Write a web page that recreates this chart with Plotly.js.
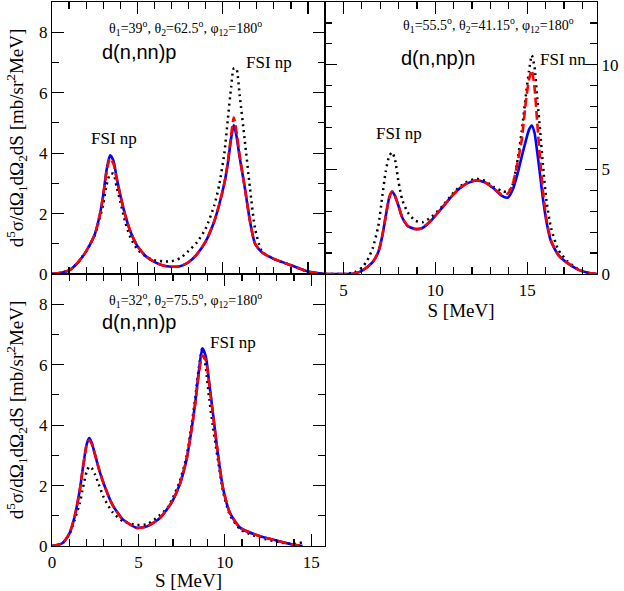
<!DOCTYPE html>
<html>
<head>
<meta charset="utf-8">
<script src="https://cdn.plot.ly/plotly-3.0.1.min.js"></script>
<style>
  html, body { margin: 0; padding: 0; background: white; }
  #chart { width: 624px; height: 591px; }
</style>
</head>
<body>
<div id="chart"></div>
<script>
// panel A: d(n,nn)p, theta1=39, theta2=62.5
const sA = [0, 0.5, 1, 1.5, 2, 2.5, 2.8, 3.0, 3.2, 3.4, 3.6, 3.8, 4.0, 4.3, 4.6, 5.0, 5.5, 6, 6.5, 7,
            7.5, 8, 8.5, 9, 9.5, 9.8, 10.1, 10.3, 10.5, 10.65, 10.8, 11.0, 11.3, 11.6, 11.9, 12.3, 13, 14, 15, 16];
const blueA = [0, 0.04, 0.12, 0.37, 0.75, 1.3, 1.95, 2.6, 3.45, 3.93, 3.75, 3.15, 2.62, 1.93, 1.4, 0.93, 0.59, 0.4, 0.28, 0.24,
               0.26, 0.39, 0.66, 1.07, 1.73, 2.3, 3.0, 3.65, 4.5, 4.93, 4.6, 3.85, 2.85, 1.75, 1.0, 0.72, 0.5, 0.29, 0.08, 0];
const redA = [0, 0.04, 0.12, 0.37, 0.75, 1.3, 1.95, 2.6, 3.4, 3.83, 3.65, 3.12, 2.6, 1.93, 1.4, 0.93, 0.59, 0.4, 0.28, 0.24,
              0.26, 0.39, 0.66, 1.07, 1.73, 2.3, 3.0, 3.68, 4.6, 5.18, 4.75, 3.9, 2.85, 1.75, 1.0, 0.72, 0.5, 0.29, 0.08, 0];
const dotA = [0, 0.04, 0.12, 0.37, 0.75, 1.28, 1.85, 2.3, 2.95, 3.3, 3.32, 2.85, 2.4, 1.7, 1.2, 0.82, 0.58, 0.46, 0.42, 0.42,
              0.52, 0.76, 1.05, 1.5, 2.25, 2.95, 4.0, 5.1, 6.2, 6.8, 6.8, 5.9, 4.4, 2.85, 1.5, 0.75, 0.5, 0.29, 0.08, 0];

// panel B: d(n,np)n, theta1=55.5, theta2=41.15
const sB = [4, 5, 5.6, 6.0, 6.3, 6.6, 6.9, 7.1, 7.3, 7.5, 7.65, 7.8, 8.0, 8.2, 8.5, 8.9, 9.3, 9.8, 10.4, 11.0,
            11.6, 12.2, 12.7, 13.2, 13.6, 13.95, 14.2, 14.45, 14.7, 14.95, 15.1, 15.25, 15.4, 15.55, 15.7, 15.85, 16.05, 16.3, 16.7, 17.2,
            17.8, 18.3, 18.8];
const blueB = [0, 0, 0.02, 0.15, 0.33, 0.58, 1.05, 1.75, 2.75, 3.67, 3.94, 3.75, 3.25, 2.7, 2.3, 2.15, 2.2, 2.58, 3.2, 3.82,
               4.27, 4.47, 4.38, 4.07, 3.75, 3.65, 4.0, 4.7, 5.6, 6.45, 6.9, 7.1, 6.75, 5.8, 4.75, 3.65, 2.5, 1.55, 0.9, 0.52,
               0.2, 0.06, 0];
const redB = [0, 0, 0.02, 0.15, 0.33, 0.58, 1.05, 1.75, 2.75, 3.67, 3.94, 3.75, 3.25, 2.7, 2.3, 2.15, 2.2, 2.58, 3.2, 3.82,
              4.27, 4.47, 4.38, 4.07, 3.8, 3.85, 4.25, 5.2, 6.4, 8.4, 9.3, 9.74, 8.9, 7.2, 5.5, 4.05, 2.6, 1.6, 0.9, 0.52,
              0.2, 0.06, 0];
const dotB = [0, 0, 0.08, 0.3, 0.65, 1.25, 2.3, 3.6, 4.9, 5.65, 5.82, 5.5, 4.4, 3.55, 2.95, 2.55, 2.47, 2.73, 3.25, 3.9,
              4.35, 4.55, 4.45, 4.15, 3.98, 3.92, 4.25, 5.3, 6.8, 8.7, 9.7, 10.45, 9.9, 8.4, 6.9, 5.3, 3.5, 2.2, 1.15, 0.6,
              0.22, 0.06, 0];

// panel C: d(n,nn)p, theta1=32, theta2=75.5
const sC = [0, 0.6, 1.0, 1.3, 1.6, 1.8, 2.0, 2.15, 2.3, 2.5, 2.7, 3.0, 3.5, 4.1, 4.9, 5.5, 6.2, 6.7,
            7.0, 7.4, 7.8, 8.1, 8.3, 8.5, 8.7, 8.9, 9.1, 9.3, 9.6, 9.9, 10.3, 10.9, 12.0, 13.2, 14.0, 14.5];
const blueC = [0, 0.09, 0.4, 0.95, 1.83, 2.63, 3.35, 3.57, 3.42, 3.0, 2.58, 2.05, 1.36, 0.88, 0.6, 0.65, 0.9, 1.25,
               1.52, 2.05, 2.9, 3.95, 4.8, 5.8, 6.54, 6.27, 5.39, 4.45, 3.05, 1.9, 1.09, 0.6, 0.33, 0.15, 0.04, 0];
const redC = [0, 0.09, 0.4, 0.95, 1.83, 2.63, 3.33, 3.5, 3.38, 3.0, 2.58, 2.05, 1.36, 0.88, 0.6, 0.65, 0.9, 1.25,
              1.52, 2.05, 2.9, 3.95, 4.75, 5.7, 6.3, 6.15, 5.35, 4.42, 3.05, 1.9, 1.09, 0.6, 0.33, 0.15, 0.04, 0];
const dotC = [0, 0.09, 0.38, 0.85, 1.4, 1.95, 2.45, 2.63, 2.58, 2.35, 2.05, 1.6, 1.12, 0.82, 0.7, 0.72, 1.0, 1.28,
              1.6, 2.15, 3.0, 4.1, 4.95, 5.9, 6.55, 5.9, 4.85, 4.0, 2.85, 1.8, 1.02, 0.55, 0.28, 0.12, 0.07, 0.12];

const serif = "'Liberation Serif', 'Times New Roman', serif";
const sans = "'Liberation Sans', Arial, sans-serif";

function curves(x, dot, blue, red, xa, ya) {
    return [
        { x: x, y: dot, xaxis: xa, yaxis: ya, mode: 'lines', type: 'scatter',
          line: { color: 'black', width: 2.5, dash: '2px,4px', shape: 'spline', smoothing: 0.6 } },
        { x: x, y: blue, xaxis: xa, yaxis: ya, mode: 'lines', type: 'scatter',
          line: { color: '#0000ff', width: 2.6, shape: 'spline', smoothing: 0.6 } },
        { x: x, y: red, xaxis: xa, yaxis: ya, mode: 'lines', type: 'scatter',
          line: { color: '#ff0000', width: 2.6, dash: '9px,4px', shape: 'spline', smoothing: 0.6 } }
    ];
}

const data = [].concat(
    curves(sA, dotA, blueA, redA, 'x', 'y'),
    curves(sB, dotB, blueB, redB, 'x2', 'y2'),
    curves(sC, dotC, blueC, redC, 'x3', 'y3')
);

function ax(extra) {
    return Object.assign({
        showline: true, linecolor: 'black', linewidth: 1.2, mirror: 'ticks',
        ticks: 'inside', ticklen: 12, tickwidth: 1.2, tickcolor: 'black',
        showgrid: false, zeroline: false, automargin: false,
        minor: { ticks: 'inside', ticklen: 7, tickwidth: 1.2, tickcolor: 'black', dtick: 1, showgrid: false },
        tickfont: { family: serif, size: 17, color: 'black' }
    }, extra);
}

const yTitle = 'd<sup>5</sup>σ/dΩ<sub>1</sub>dΩ<sub>2</sub>dS [mb/sr<sup>2</sup>MeV]';
const xTitle = 'S [MeV]';
const titleFont = { family: serif, size: 19, color: 'black' };

function ann(xref, yref, x, y, text, size, family, xanchor) {
    return { xref: xref, yref: yref, x: x, y: y, text: text, showarrow: false,
             xanchor: xanchor || 'center', yanchor: 'middle',
             font: { family: family, size: size, color: 'black' } };
}

const layout = {
    width: 624, height: 591,
    margin: { l: 52, r: 27, t: 2, b: 45 },
    paper_bgcolor: 'white', plot_bgcolor: 'white',
    showlegend: false,
    xaxis: ax({ domain: [0, 0.501], range: [0, 16], anchor: 'y', tick0: 0, dtick: 5, showticklabels: false }),
    yaxis: ax({ domain: [0.5, 1], range: [0, 9], anchor: 'x', tick0: 0, dtick: 2,
                title: { text: yTitle, font: titleFont, standoff: 10 } }),
    xaxis2: ax({ domain: [0.501, 1], range: [4, 18.8], anchor: 'y2', tick0: 0, dtick: 5,
                 title: { text: xTitle, font: titleFont, standoff: 4 } }),
    yaxis2: ax({ domain: [0.5, 1], range: [0, 13], anchor: 'x2', side: 'right', tick0: 0, dtick: 5 }),
    xaxis3: ax({ domain: [0, 0.501], range: [0, 15.8], anchor: 'y3', tick0: 0, dtick: 5,
                 title: { text: xTitle, font: titleFont, standoff: 4 } }),
    yaxis3: ax({ domain: [0, 0.5], range: [0, 9], anchor: 'x3', tick0: 0, dtick: 2,
                 title: { text: yTitle, font: titleFont, standoff: 10 } }),
    annotations: [
        ann('x', 'y', 7.8, 8.13, 'θ<sub>1</sub>=39<sup>o</sup>, θ<sub>2</sub>=62.5<sup>o</sup>, φ<sub>12</sub>=180<sup>o</sup>', 14, serif),
        ann('x', 'y', 2.8, 7.34, 'd(n,nn)p', 20, sans, 'left'),
        ann('x', 'y', 3.63, 4.5, 'FSI np', 17, serif),
        ann('x', 'y', 12.7, 7.0, 'FSI np', 17, serif),
        ann('x2', 'y2', 12.9, 11.9, 'θ<sub>1</sub>=55.5<sup>o</sup>, θ<sub>2</sub>=41.15<sup>o</sup>, φ<sub>12</sub>=180<sup>o</sup>', 14, serif),
        ann('x2', 'y2', 8.02, 10.3, 'd(n,np)n', 20, sans, 'left'),
        ann('x2', 'y2', 16.96, 10.25, 'FSI nn', 17, serif),
        ann('x2', 'y2', 8.0, 6.72, 'FSI np', 17, serif),
        ann('x3', 'y3', 7.71, 8.14, 'θ<sub>1</sub>=32<sup>o</sup>, θ<sub>2</sub>=75.5<sup>o</sup>, φ<sub>12</sub>=180<sup>o</sup>', 14, serif),
        ann('x3', 'y3', 2.78, 7.42, 'd(n,nn)p', 20, sans, 'left'),
        ann('x3', 'y3', 10.5, 6.75, 'FSI np', 17, serif)
    ]
};

Plotly.newPlot('chart', data, layout, { displayModeBar: false, staticPlot: true });
</script>
</body>
</html>
